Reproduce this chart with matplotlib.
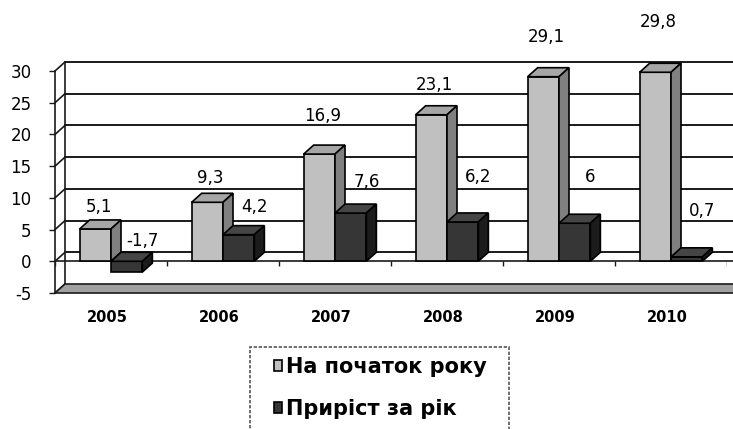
import numpy as np
import matplotlib
matplotlib.use("Agg")
import matplotlib.pyplot as plt
from matplotlib.patches import Polygon, Rectangle

plt.rcParams['font.family'] = ['DejaVu Sans']
plt.rcParams['axes.unicode_minus'] = False

years = ["2005", "2006", "2007", "2008", "2009", "2010"]
start_of_year = [5.1, 9.3, 16.9, 23.1, 29.1, 29.8]
growth = [-1.7, 4.2, 7.6, 6.2, 6, 0.7]
series_names = ["На початок року", "Приріст за рік"]

# label lifts above the bar top (value units)
light_lift = [3.4, 3.8, 6.0, 4.7, 6.3, 7.9]
dark_lift = [3.2, 4.3, 4.9, 7.1, 7.3, 7.3]

W, H = 733, 429
fig = plt.figure(figsize=(W / 100, H / 100), dpi=100)
# front plane of the plot: x 55..727 px, y(30)=71 px, y(-5)=293 px
ax = fig.add_axes([55 / W, 1 - 293 / H, 672 / W, 222 / H])
ax.set_xlim(0, 6)
ax.set_ylim(-5, 30)

# depth offsets: 10 px right, 9 px up
dx = 10 / (672 / 6)
dy = 9 / (222 / 35)

light = ["#c0c0c0", "#a6a6a6", "#808080"]
dark = ["#363636", "#454545", "#1c1c1c"]
lc = "#1a1a1a"

# back wall + left wall gridlines
yt = np.arange(-5, 31, 5)
for v in yt:
    if v > -5:
        ax.plot([dx, 6 + dx + 0.2], [v + dy, v + dy], color=lc, lw=1.4, clip_on=False, zorder=1)
    ax.plot([0, dx], [v, v + dy], color=lc, lw=1.2, clip_on=False, zorder=1)
ax.plot([dx, dx], [-5 + dy, 30 + dy], color=lc, lw=1.2, clip_on=False, zorder=1)

# floor at -5
floor = Polygon([(0, -5), (6.2, -5), (6.2 + dx, -5 + dy), (dx, -5 + dy)],
                closed=True, facecolor="#a0a0a0", edgecolor=lc, lw=1.2,
                clip_on=False, zorder=1.5)
ax.add_patch(floor)

# front zero line with category ticks
ax.plot([0, 6.2], [0, 0], color=lc, lw=1.2, clip_on=False, zorder=1.6)
ax.vlines(np.arange(0, 7), -0.7, 0, color=lc, lw=1, zorder=1.6)

x = np.arange(len(years))
bw = 0.28
x_light = x + 0.22
x_dark = x_light + bw


def box(x0, v, cols, z):
    lo, hi = min(v, 0), max(v, 0)
    x1 = x0 + bw
    top = Polygon([(x0, hi), (x1, hi), (x1 + dx, hi + dy), (x0 + dx, hi + dy)],
                  closed=True, facecolor=cols[1], edgecolor="black", lw=1.2,
                  zorder=z, clip_on=False)
    side = Polygon([(x1, lo), (x1, hi), (x1 + dx, hi + dy), (x1 + dx, lo + dy)],
                   closed=True, facecolor=cols[2], edgecolor="black", lw=1.2,
                   zorder=z, clip_on=False)
    ax.add_patch(top)
    ax.add_patch(side)


b1 = ax.bar(x_light, start_of_year, bw, align="edge", color=light[0],
            edgecolor="black", lw=1.2, label=series_names[0], clip_on=False)
b2 = ax.bar(x_dark, growth, bw, align="edge", color=dark[0],
            edgecolor="black", lw=1.2, label=series_names[1], clip_on=False)
for i in range(len(years)):
    b1[i].set_zorder(3 + i)
    box(x_light[i], start_of_year[i], light, 3 + i)
    b2[i].set_zorder(3.5 + i)
    box(x_dark[i], growth[i], dark, 3.5 + i)


def fmt(v):
    return f"{v:g}".replace(".", ",")


for i in range(len(years)):
    ax.text(x_light[i] + bw / 2 + 0.03, start_of_year[i] + light_lift[i], fmt(start_of_year[i]),
            ha="center", va="center", fontsize=12, zorder=20, clip_on=False)
    ax.text(x_dark[i] + bw / 2 + 0.14, max(growth[i], 0) + dark_lift[i], fmt(growth[i]),
            ha="center", va="center", fontsize=12, zorder=20, clip_on=False)

# axes styling
for s in ["top", "right", "bottom"]:
    ax.spines[s].set_visible(False)
ax.spines["left"].set_color(lc)
ax.spines["left"].set_linewidth(1.2)
ax.set_yticks(yt)
ax.set_yticklabels([str(v) for v in yt], fontsize=12)
ax.tick_params(axis="y", length=4, width=1, pad=13, color=lc)
ax.set_xticks(x + 0.47)
ax.set_xticklabels(years, fontsize=10.5, fontweight="bold")
ax.tick_params(axis="x", length=0, pad=12)

# legend
fig.patches.append(Rectangle((250 / W, 1 - 445 / H), 259 / W, 98 / H,
                             transform=fig.transFigure, fill=False,
                             edgecolor="#555555", lw=1.2, ls=(0, (2, 1))))
fig.legend(handles=[b1, b2], loc="upper left", bbox_to_anchor=(274 / W, 1 - 357 / H),
           frameon=False, prop={"weight": "bold", "size": 15},
           handlelength=0.4, handleheight=0.4, handletextpad=0.2,
           labelspacing=1.05, borderpad=0, borderaxespad=0)

fig.savefig("out.png", dpi=100)
